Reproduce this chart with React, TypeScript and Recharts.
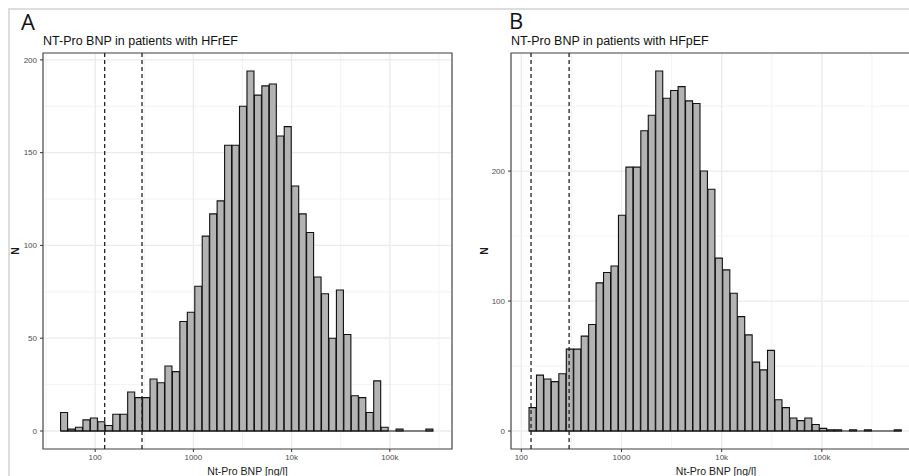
import React from "react"
import { Bar, CartesianGrid, ComposedChart, Label, ReferenceArea, ReferenceLine, XAxis, YAxis } from "recharts"

// bins are equal steps in log10(ng/l), 50 bins per panel
const countsA = [
  10, 1, 2, 6, 7, 5, 3, 9, 9, 21, 18, 18, 28, 26, 35, 32, 59, 64, 78, 105, 117, 124, 154, 154, 175, 194, 181, 186, 187,
  159, 164, 132, 117, 107, 83, 74, 50, 76, 52, 19, 18, 10, 27, 2, 0, 1, 0, 0, 0, 1,
]
const countsB = [
  18, 43, 40, 38, 44, 63, 63, 73, 82, 114, 122, 127, 166, 203, 203, 231, 243, 277, 256, 262, 265, 254, 252, 200, 186,
  133, 124, 106, 88, 74, 53, 47, 62, 24, 18, 10, 8, 10, 5, 2, 1, 1, 0, 1, 0, 1, 0, 0, 0, 1,
]
const binLogStartA = 1.648
const binLogWidthA = 0.0759
const binLogStartB = 2.077
const binLogWidthB = 0.0744

const cutoffs = [125, 300]

const xTicks = [100, 1000, 10000, 100000]
const xTickLabels = ["100", "1000", "10k", "100k"]
const xMinorLog = [1.5, 2.5, 3.5, 4.5, 5.5]

const yTicksA = [0, 50, 100, 150, 200]
const yMinorA = [25, 75, 125, 175]
const yTicksB = [0, 100, 200]
const yMinorB = [50, 150, 250]

const titleA = "NT-Pro BNP in patients with HFrEF"
const titleB = "NT-Pro BNP in patients with HFpEF"
const xTitle = "Nt-Pro BNP [ng/l]"
const yTitle = "N"

const font = '"Liberation Sans", Arial, Helvetica, sans-serif'

function makeBins(counts: number[], start: number, width: number) {
  return counts.map((n, i) => ({ x: Math.pow(10, start + (i + 0.5) * width), n }))
}

type PanelProps = {
  counts: number[]
  binStart: number
  binWidth: number
  xLogDomain: [number, number]
  yTicks: number[]
  yMinor: number[]
  width: number
  yAxisWidth: number
  right: number
  nDx: number
}

function Histogram(p: PanelProps) {
  const bins = makeBins(p.counts, p.binStart, p.binWidth)
  const maxN = Math.max(...p.counts)
  const yDomain: [number, number] = [-0.05 * maxN, 1.05 * maxN]
  const xDomain: [number, number] = [Math.pow(10, p.xLogDomain[0]), Math.pow(10, p.xLogDomain[1])]
  const minorX = xMinorLog.filter((v) => v > p.xLogDomain[0] && v < p.xLogDomain[1])
  const binEnd = Math.pow(10, p.binStart + p.counts.length * p.binWidth)

  // minor grid positions, mapped the same way the axes map their domains onto the plot box
  const minorYGen = ({ offset }: any) =>
    p.yMinor.map((v) => offset.top + (offset.height * (yDomain[1] - v)) / (yDomain[1] - yDomain[0]))
  const minorXGen = ({ offset }: any) =>
    minorX.map((v) => offset.left + (offset.width * (v - p.xLogDomain[0])) / (p.xLogDomain[1] - p.xLogDomain[0]))

  return (
    <ComposedChart
      width={p.width}
      height={476}
      data={bins}
      margin={{ top: 53, right: p.right, left: 0, bottom: 0 }}
      barCategoryGap={0}
      barGap={0}
      style={{ fontFamily: font }}
    >
      <CartesianGrid
        stroke="#f0f0f0"
        strokeWidth={0.8}
        horizontalCoordinatesGenerator={minorYGen}
        verticalCoordinatesGenerator={minorXGen}
      />
      <CartesianGrid stroke="#ebebeb" strokeWidth={1.3} />
      <XAxis
        dataKey="x"
        type="number"
        scale="log"
        domain={xDomain}
        allowDataOverflow
        ticks={xTicks}
        interval={0}
        tickFormatter={(v: number) => xTickLabels[xTicks.indexOf(v)] ?? ""}
        height={27}
        axisLine={false}
        tickSize={3}
        tickMargin={2}
        tickLine={{ stroke: "#333" }}
        tick={{ fontSize: 8, fill: "#4d4d4d" }}
      >
        <Label value={xTitle} position="insideBottom" offset={1} style={{ fontSize: 10.5, fill: "#1a1a1a" }} />
      </XAxis>
      <YAxis
        type="number"
        domain={yDomain}
        allowDataOverflow
        ticks={p.yTicks}
        interval={0}
        width={p.yAxisWidth}
        axisLine={false}
        tickSize={3}
        tickMargin={3}
        tickLine={{ stroke: "#333" }}
        tick={{ fontSize: 8, fill: "#4d4d4d" }}
      >
        <Label
          value={yTitle}
          angle={-90}
          position="center"
          dx={p.nDx}
          style={{ fontSize: 10.5, fill: "#1a1a1a", fontWeight: 600 }}
        />
      </YAxis>
      <Bar dataKey="n" fill="#b3b3b3" stroke="#111" strokeWidth={1.1} isAnimationActive={false} />
      <ReferenceLine
        segment={[
          { x: Math.pow(10, p.binStart), y: 0 },
          { x: binEnd, y: 0 },
        ]}
        stroke="#111"
        strokeWidth={1.1}
      />
      {cutoffs.map((c) => (
        <ReferenceLine key={c} x={c} stroke="#222" strokeWidth={1.3} strokeDasharray="4 3" />
      ))}
      <ReferenceArea
        x1={xDomain[0]}
        x2={xDomain[1]}
        y1={yDomain[0]}
        y2={yDomain[1]}
        fill="none"
        fillOpacity={0}
        stroke="#4d4d4d"
        strokeWidth={1.2}
        ifOverflow="visible"
      />
    </ComposedChart>
  )
}

const letterStyle: React.CSSProperties = {
  position: "absolute",
  fontFamily: '"Open Sans", sans-serif',
  fontSize: 22,
  lineHeight: 1,
  color: "#111",
}
const titleStyle: React.CSSProperties = {
  position: "absolute",
  fontFamily: font,
  fontSize: 12.5,
  lineHeight: 1,
  color: "#111",
  whiteSpace: "nowrap",
}

export default function App() {
  return (
    <div style={{ position: "fixed", left: 0, top: 0, width: 909, height: 476, background: "#fff", overflow: "hidden" }}>
      <div
        style={{
          position: "absolute",
          left: 8,
          top: 8,
          right: -4,
          bottom: -4,
          borderTop: "2px solid #dddddd",
          borderLeft: "2px solid #dddddd",
        }}
      />
      <div style={{ position: "absolute", left: 0, top: 0 }}>
        <Histogram
          counts={countsA}
          binStart={binLogStartA}
          binWidth={binLogWidthA}
          xLogDomain={[1.469, 5.633]}
          yTicks={yTicksA}
          yMinor={yMinorA}
          width={460}
          yAxisWidth={43}
          right={8}
          nDx={-6}
        />
      </div>
      <div style={{ position: "absolute", left: 455, top: 0 }}>
        <Histogram
          counts={countsB}
          binStart={binLogStartB}
          binWidth={binLogWidthB}
          xLogDomain={[1.897, 5.99]}
          yTicks={yTicksB}
          yMinor={yMinorB}
          width={475}
          yAxisWidth={56}
          right={9}
          nDx={1.5}
        />
      </div>
      <div style={{ ...letterStyle, left: 21, top: 10 }}>A</div>
      <div style={{ ...titleStyle, left: 43, top: 35 }}>{titleA}</div>
      <div style={{ ...letterStyle, left: 509, top: 9 }}>B</div>
      <div style={{ ...titleStyle, left: 511, top: 35 }}>{titleB}</div>
    </div>
  )
}
